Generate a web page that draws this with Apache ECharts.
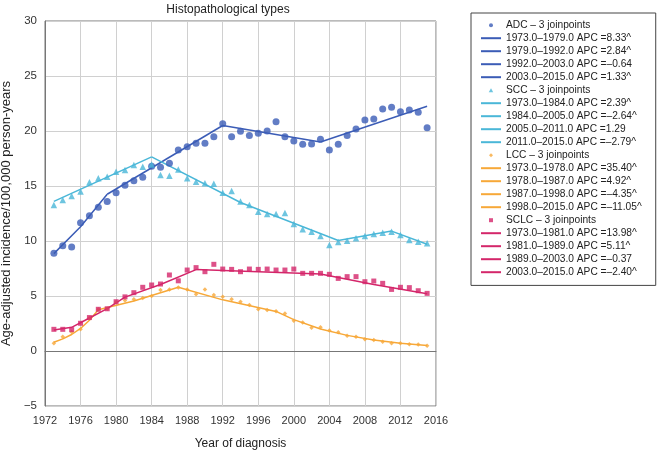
<!DOCTYPE html>
<html>
<head>
<meta charset="utf-8">
<script src="https://cdn.jsdelivr.net/npm/echarts@6/dist/echarts.min.js"></script>
<style>html,body{margin:0;padding:0;background:#fff}#c{width:662px;height:450px}</style>
</head>
<body>
<div id="c"></div>
<script>
const years = [1973,1974,1975,1976,1977,1978,1979,1980,1981,1982,1983,1984,1985,1986,1987,1988,1989,1990,1991,1992,1993,1994,1995,1996,1997,1998,1999,2000,2001,2002,2003,2004,2005,2006,2007,2008,2009,2010,2011,2012,2013,2014,2015];
const adc  = [8.88,9.57,9.45,11.67,12.3,13.06,13.58,14.39,15.06,15.48,15.79,16.8,16.7,17.06,18.27,18.57,18.88,18.88,19.48,20.67,19.48,19.97,19.58,19.79,20.0,20.85,19.48,19.09,18.79,18.82,19.24,18.27,18.79,19.58,20.18,21.0,21.09,22.0,22.15,21.76,21.9,21.7,20.3];
const scc  = [13.27,13.73,14.1,14.5,15.35,15.7,15.85,16.3,16.45,16.9,16.76,16.95,16.0,15.94,16.5,15.7,15.39,15.24,15.2,14.39,14.55,13.58,13.27,12.67,12.45,12.45,12.55,11.55,11.06,10.85,10.45,9.64,9.9,10.03,10.24,10.45,10.64,10.76,10.85,10.55,10.09,9.94,9.79];
const lcc  = [0.7,1.3,1.72,1.97,3.0,3.79,3.83,4.45,4.6,4.7,4.82,5.0,5.55,5.6,5.78,5.6,5.15,5.6,5.09,4.94,4.7,4.48,4.18,3.8,3.73,3.62,3.4,2.74,2.58,2.12,2.17,1.87,1.7,1.38,1.3,1.06,1.0,0.85,0.7,0.7,0.62,0.6,0.48];
const sclc = [1.97,1.97,1.94,2.52,3.04,3.79,3.84,4.48,4.92,5.3,5.79,6.0,6.09,6.91,6.38,7.36,7.58,7.21,7.88,7.45,7.42,7.21,7.45,7.42,7.45,7.36,7.36,7.45,7.06,7.06,7.06,6.97,6.6,6.76,6.76,6.3,6.36,6.15,5.6,5.79,5.76,5.48,5.24];

// fitted joinpoint segments: [year, value]
const adcFit = [[[1973,8.85],[1976,11.3],[1979,14.25]], [[1979,14.25],[1992,20.5]], [[1992,20.5],[2003,19.0]], [[2003,19.0],[2015,22.25]]];
const sccFit = [[[1973,13.6],[1984,17.65]], [[1984,17.65],[1994,13.5],[2005,10.05]], [[2005,10.05],[2011,10.9]], [[2011,10.9],[2015,9.7]]];
const lccFit = [[[1973,0.8],[1974,1.1],[1975,1.5],[1976,2.05],[1977,2.8],[1978,3.75]], [[1978,3.75],[1982,4.55],[1987,5.8]], [[1987,5.8],[1992,4.65],[1998,3.6]], [[1998,3.6],[2000,2.85],[2003,2.0],[2006,1.42],[2009,1.0],[2012,0.7],[2015,0.5]]];
const sclcFit = [[[1973,1.9],[1975,2.15],[1977,3.0],[1979,3.85],[1981,4.9]], [[1981,4.9],[1985,6.05],[1989,7.4]], [[1989,7.4],[2003,7.0]], [[2003,7.0],[2009,6.05],[2015,5.2]]];

const groupNames = ['ADC – 3 joinpoints','SCC – 3 joinpoints','LCC – 3 joinpoints','SCLC – 3 joinpoints'];
const adcLabels  = ['1973.0–1979.0 APC =8.33^','1979.0–1992.0 APC =2.84^','1992.0–2003.0 APC =–0.64','2003.0–2015.0 APC =1.33^'];
const sccLabels  = ['1973.0–1984.0 APC =2.39^','1984.0–2005.0 APC =–2.64^','2005.0–2011.0 APC =1.29','2011.0–2015.0 APC =–2.79^'];
const lccLabels  = ['1973.0–1978.0 APC =35.40^','1978.0–1987.0 APC =4.92^','1987.0–1998.0 APC =–4.35^','1998.0–2015.0 APC =–11.05^'];
const sclcLabels = ['1973.0–1981.0 APC =13.98^','1981.0–1989.0 APC =5.11^','1989.0–2003.0 APC =–0.37','2003.0–2015.0 APC =–2.40^'];

const colors = ['#3b5cb6','#4ab7d8','#f7a838','#d4266a'];
const symbols = ['circle','triangle','diamond','rect'];
const legendIcons = ['circle','path://M2,0L4,3.6L0,3.6Z','path://M2,0L4,2L2,4L0,2Z','path://M0,0L4,0L4,4L0,4Z'];
const sizes = [7,6.5,4.5,5];
const obs = [adc, scc, lcc, sclc];
const fits = [adcFit, sccFit, lccFit, sclcFit];
const labels = [adcLabels, sccLabels, lccLabels, sclcLabels];
const FONT = 'Liberation Sans, Arial, sans-serif';

const series = [];
const legendData = [];
for (let g = 0; g < 4; g++) {
  series.push({
    name: groupNames[g], type: 'scatter', symbol: symbols[g], symbolSize: sizes[g],
    itemStyle: {color: colors[g]}, z: 4,
    data: years.map((y, i) => [y, obs[g][i]])
  });
  legendData.push({name: groupNames[g], icon: legendIcons[g]});
  for (let s = 0; s < 4; s++) {
    series.push({
      name: labels[g][s], type: 'line', symbol: 'none', showSymbol: false, z: 3,
      lineStyle: {color: colors[g], width: 1.5}, itemStyle: {color: colors[g]},
      data: fits[g][s]
    });
    legendData.push({name: labels[g][s], icon: 'path://M0,0L20,0L20,2L0,2Z', itemStyle: {color: colors[g]}});
  }
}

const chart = echarts.init(document.getElementById('c'));
chart.setOption({
  animation: false,
  title: {text: 'Histopathological types', left: 223, top: -1, textAlign: 'center',
    textStyle: {fontSize: 12, fontWeight: 'normal', color: '#222', fontFamily: FONT}},
  grid: {left: 45, right: 226, top: 21, bottom: 44, containLabel: false, outerBoundsMode: 'none',
    show: true, borderColor: '#777', borderWidth: 1, backgroundColor: '#fff'},
  legend: {
    orient: 'vertical', left: 471, top: 13, data: legendData,
    itemWidth: 20, itemHeight: 4, itemGap: 0.6, symbolKeepAspect: true,
    padding: [6, 14, 7, 10], borderColor: '#444', borderWidth: 1,
    textStyle: {fontSize: 10.2, lineHeight: 12.4, color: '#222', fontFamily: FONT}
  },
  xAxis: {
    type: 'value', min: 1972, max: 2016, interval: 4,
    name: 'Year of diagnosis', nameLocation: 'middle', nameGap: 32,
    nameTextStyle: {fontSize: 12, color: '#222', fontFamily: FONT},
    axisLine: {show: true, lineStyle: {color: '#777'}}, axisTick: {show: false},
    axisLabel: {fontSize: 11, color: '#333', margin: 9, fontFamily: FONT, formatter: v => String(v)},
    splitLine: {show: true, lineStyle: {color: '#d0d0d0'}}
  },
  yAxis: {
    type: 'value', min: -5, max: 30, interval: 5,
    name: 'Age-adjusted incidence/100,000 person-years', nameLocation: 'middle', nameGap: 26,
    nameTextStyle: {fontSize: 13, color: '#222', fontFamily: FONT},
    axisLine: {show: true, lineStyle: {color: '#777'}}, axisTick: {show: false},
    axisLabel: {fontSize: 11.5, color: '#333', margin: 8, fontFamily: FONT,
      formatter: v => String(v).replace('-', '−')},
    splitLine: {show: true, lineStyle: {color: '#d0d0d0'}}
  },
  series: series
});
</script>
</body>
</html>
